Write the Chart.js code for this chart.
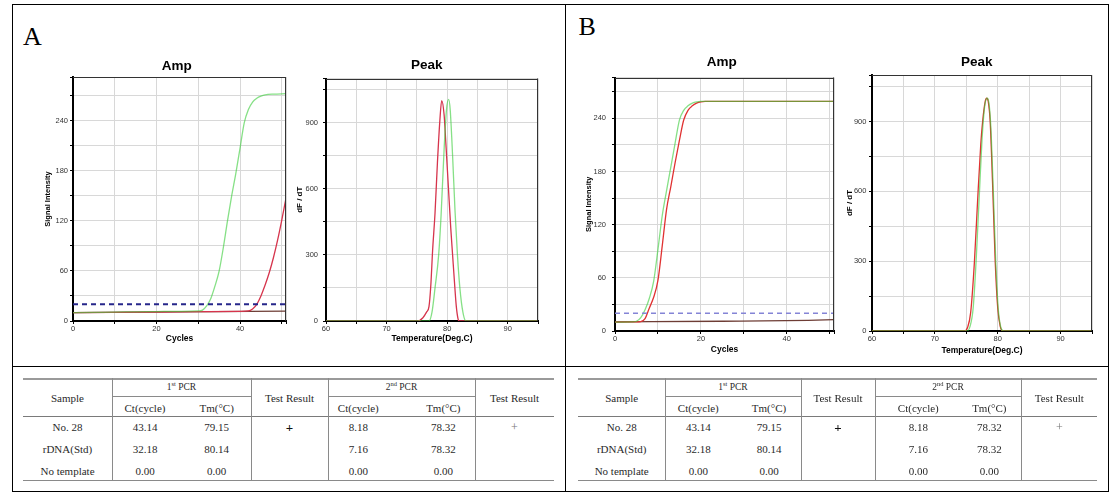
<!DOCTYPE html>
<html><head><meta charset="utf-8">
<script src="https://cdn.jsdelivr.net/npm/chart.js@4.4.1/dist/chart.umd.min.js"></script>
<style>
html,body{margin:0;padding:0;background:#fff}
body{width:1119px;height:493px;position:relative;overflow:hidden}
canvas{position:absolute}
.ln{position:absolute}
.t{position:absolute;white-space:nowrap;line-height:1;transform:translate(-50%,-50%);font-family:"Liberation Serif","Times New Roman",serif;color:#2a2a2a;font-size:11px}
.ttl{position:absolute;font:bold 13.5px "Liberation Sans",Arial,sans-serif;line-height:13.5px;transform:translateX(-50%);white-space:nowrap;color:#000}
.lab{position:absolute;font:26px "Liberation Serif","Times New Roman",serif;line-height:26px;color:#000}
sup{font-size:6.5px;vertical-align:4px;line-height:0}
</style></head><body>
<canvas id="ampA"></canvas><canvas id="peakA"></canvas>
<canvas id="ampB"></canvas><canvas id="peakB"></canvas>
<script>
// ================= DATA =================
// Panel A – amplification (cycle vs signal intensity)
const ampA_std_cycles  = [0,5,10,15,20,25,30,31,32,33,34,35,36,37,38,39,40,41,42,43,44,45,46,48,51];
const ampA_std_signal  = [10,10.3,10.6,11,11.3,11.6,12,13,18,27,42,60,88,120,150,177,207,237,253,262,266.5,269,270.5,271.5,272];
const ampA_no28_cycles = [0,10,20,30,40,42,43,44,45,46,47,48,49,50,51];
const ampA_no28_signal = [10,10.4,10.8,11.2,11.6,12,14.5,20,30,43,58,76,97,121,147];
const ampA_ntc_cycles  = [0,51];
const ampA_ntc_signal  = [10,11.8];
const ampA_threshold   = 20;

// Panel A – melting peak (temperature vs dF/dT)
const peakA_no28_temp = [60,75.1,76.0,76.6,77.0,77.3,77.6,78.0,78.4,78.8,79.1,79.5,79.8,80.2,80.6,80.9,81.2,81.5,81.8,82.0,95];
const peakA_no28_dfdt = [0,0,15,40,65,160,320,490,720,910,1000,935,800,610,420,300,180,70,10,0,0];
const peakA_std_temp  = [60,77.0,77.5,78.0,78.6,79.0,79.5,79.9,80.25,80.5,80.9,81.3,81.7,82.1,82.6,83.1,95];
const peakA_std_dfdt  = [0,0,40,150,300,480,780,960,1005,960,750,500,300,150,40,0,0];

// Panel B – amplification
const ampB_std_cycles  = [0,4,5,6,7,8,9,10,11,12,13,14,15,16,17,18,19,20,22,51];
const ampB_std_signal  = [10,10.2,11,15,24,37,56,92,130,158,185,212,238,249,254,257,258.5,259,259,259];
const ampB_no28_cycles = [0,5,6,7,8,9,10,11,12,13,14,15,16,17,18,19,20,21,51];
const ampB_no28_signal = [10,10.2,10.6,14,26,38,57,96,137,163,190,215,238,249,254,257,258.5,259,259];
const ampB_ntc_cycles  = [0,25,45,51];
const ampB_ntc_signal  = [10.3,11,12,12.8];
const ampB_threshold   = 20;

// Panel B – melting peak
const peakB_no28_temp = [60,74.7,75.2,75.7,76.3,76.8,77.3,77.6,78.0,78.25,78.5,78.8,79.2,79.6,80.0,80.4,80.8,95];
const peakB_no28_dfdt = [0,0,15,80,300,560,800,900,985,1000,985,900,620,300,100,20,0,0];
const peakB_std_temp  = [60,75.1,75.6,76.1,76.6,77.1,77.5,77.9,78.3,78.6,78.9,79.3,79.7,80.1,80.5,80.9,95];
const peakB_std_dfdt  = [0,0,20,100,320,600,820,960,1000,980,880,600,290,90,15,0,0];

// Table (same for both panels)
const tableSamples = ['No. 28','rDNA(Std)','No template'];
const pcr1Ct  = ['43.14','32.18','0.00'];
const pcr1Tm  = ['79.15','80.14','0.00'];
const result1 = ['+','',''];
const pcr2Ct  = ['8.18','7.16','0.00'];
const pcr2Tm  = ['78.32','78.32','0.00'];
const result2 = ['+','',''];

// ================= HELPERS =================
Chart.defaults.font.family = '"Liberation Sans", Arial, sans-serif';
function pts(xs, ys){ return xs.map((x,i)=>({x:x, y:ys[i]})); }
function flat(v, a, b){ return [{x:a,y:v},{x:b,y:v}]; }

const framePlugin = {
  id:'frame',
  afterDraw(chart){
    const {ctx, chartArea:a} = chart;
    ctx.save();
    ctx.strokeStyle = '#333'; ctx.lineWidth = 1;
    ctx.beginPath();
    ctx.moveTo(a.left, Math.round(a.top)+0.5); ctx.lineTo(a.right, Math.round(a.top)+0.5);
    ctx.moveTo(Math.round(a.right)-0.5, a.top); ctx.lineTo(Math.round(a.right)-0.5, a.bottom);
    ctx.stroke(); ctx.restore();
  }
};

function ds(data, color, w, dash){
  return {data:data, borderColor:color, borderWidth:w||1.3, borderDash:dash||[], fill:false,
          pointRadius:0, cubicInterpolationMode:'monotone'};
}

function makeChart(id, box, o){
  const yW = 50, padTop = 8, padRight = 6, xH = 34;
  const left = box.L - yW, top = box.T - padTop;
  const w = box.R - box.L + yW + padRight, h = box.B - box.T + padTop + xH;
  const cv = document.getElementById(id);
  cv.width = w; cv.height = h;
  Object.assign(cv.style, {left:left+'px', top:top+'px', width:w+'px', height:h+'px'});
  const tfs = 7.5, ylh = o.yTitleSize*1.2, xlh = o.xTitleSize*1.2;
  new Chart(cv, {
    type:'line',
    data:{datasets:o.datasets},
    options:{
      responsive:false, animation:false, devicePixelRatio:1,
      layout:{padding:{left:0, top:padTop, right:padRight, bottom:0}},
      plugins:{legend:{display:false}, tooltip:{enabled:false}},
      scales:{
        x:{type:'linear', min:o.xMin, max:o.xMax, bounds:'data',
          ticks:{stepSize:o.xStep, includeBounds:false, autoSkip:false, maxRotation:0, padding:0,
                 font:{size:tfs}, color:'#333', callback:v => (v % o.xLabelEvery === 0 ? String(v) : '')},
          grid:{color:'#d8d8d8', lineWidth:1, tickLength:3, tickColor:'#000'},
          border:{display:true, color:'#000', width:2},
          title:{display:true, text:o.xTitle, color:'#000', font:{size:o.xTitleSize, weight:'bold'},
                 padding:{top:0, bottom: xH - o.xTitleDy - xlh/2}},
          afterFit(s){ s.height = xH; }
        },
        y:{type:'linear', min:0, max:o.yMax, bounds:'data',
          ticks:{stepSize:o.yStep, includeBounds:false, padding:o.yTickPad,
                 font:{size:tfs}, color:'#333', callback:v => (v % o.yLabelEvery === 0 ? String(v) : '')},
          grid:{color:'#d8d8d8', lineWidth:1, tickLength:3, tickColor:'#000'},
          border:{display:true, color:'#000', width:2},
          title:{display:true, text:o.yTitle, color:'#000', font:{size:o.yTitleSize, weight:'bold'},
                 padding:{top: yW + o.yTitleDx - ylh/2, bottom:0}},
          afterFit(s){ s.width = yW; }
        }
      }
    },
    plugins:[framePlugin]
  });
}

const GREEN = 'rgba(60,205,60,0.62)';
const RED_A = '#d6344c';
const RED_B = '#e03232';
const NTC = '#6e3d35';

// ----- Panel A charts -----
makeChart('ampA', {L:73,T:77,R:286,B:321}, {
  xMin:0, xMax:51, xStep:10, xLabelEvery:20, yMax:292, yStep:30, yLabelEvery:60, yTickPad:2,
  xTitle:'Cycles', xTitleSize:8.5, xTitleDy:18, yTitle:'Signal Intensity', yTitleSize:7.5, yTitleDx:-25.3,
  datasets:[
    ds(flat(ampA_threshold, 0, 51), '#26268a', 2, [5,4]),
    ds(pts(ampA_std_cycles, ampA_std_signal), GREEN),
    ds(pts(ampA_no28_cycles, ampA_no28_signal), RED_A),
    ds(pts(ampA_ntc_cycles, ampA_ntc_signal), NTC)
  ]
});
makeChart('peakA', {L:326,T:77,R:538,B:321}, {
  xMin:60, xMax:95, xStep:5, xLabelEvery:10, yMax:1100, yStep:150, yLabelEvery:300, yTickPad:5,
  xTitle:'Temperature(Deg.C)', xTitleSize:8.5, xTitleDy:17.3, yTitle:'dF / dT', yTitleSize:8, yTitleDx:-26,
  datasets:[
    ds(pts(peakA_std_temp, peakA_std_dfdt), GREEN),
    ds(pts(peakA_no28_temp, peakA_no28_dfdt), RED_A)
  ]
});
// ----- Panel B charts -----
makeChart('ampB', {L:615,T:75,R:834,B:331}, {
  xMin:0, xMax:51, xStep:10, xLabelEvery:20, yMax:286, yStep:30, yLabelEvery:60, yTickPad:6,
  xTitle:'Cycles', xTitleSize:8.5, xTitleDy:19, yTitle:'Signal Intensity', yTitleSize:7.5, yTitleDx:-26,
  datasets:[
    ds(flat(ampB_threshold, 0, 51), '#8484d6', 1.3, [5,4]),
    ds(pts(ampB_std_cycles, ampB_std_signal), GREEN),
    ds(pts(ampB_no28_cycles, ampB_no28_signal), RED_B),
    ds(pts(ampB_ntc_cycles, ampB_ntc_signal), NTC)
  ]
});
makeChart('peakB', {L:872,T:75,R:1092,B:331}, {
  xMin:60, xMax:95, xStep:5, xLabelEvery:10, yMax:1100, yStep:150, yLabelEvery:300, yTickPad:2.6,
  xTitle:'Temperature(Deg.C)', xTitleSize:8.5, xTitleDy:20, yTitle:'dF / dT', yTitleSize:8, yTitleDx:-22,
  datasets:[
    ds(pts(peakB_std_temp, peakB_std_dfdt), GREEN),
    ds(pts(peakB_no28_temp, peakB_no28_dfdt), RED_B)
  ]
});

// ================= PAGE DECORATION (frames, titles, tables) =================
const body = document.body;
function line(x, y, w, h, c){
  const d = document.createElement('div'); d.className = 'ln';
  Object.assign(d.style, {left:x+'px', top:y+'px', width:w+'px', height:h+'px', background:c||'#000'});
  body.appendChild(d);
}
function text(cls, x, y, html, extra){
  const d = document.createElement('div'); d.className = cls;
  d.style.left = x+'px'; d.style.top = y+'px'; d.innerHTML = html;
  if (extra) Object.assign(d.style, extra);
  body.appendChild(d);
}
// frames
line(12, 4, 1097, 1); line(12, 491, 1097, 1); line(12, 366, 1097, 1);
line(12, 4, 1, 488); line(565, 4, 1, 488); line(1108, 4, 1, 488);
// panel letters
text('lab', 23, 24, 'A'); text('lab', 578.5, 14, 'B');
// chart titles
text('ttl', 176.7, 58.6, 'Amp'); text('ttl', 426.7, 57.6, 'Peak');
text('ttl', 721.7, 55.3, 'Amp'); text('ttl', 976.7, 55.3, 'Peak');

function table(c){
  // c: column edges and centers
  const yTop = 378, ySub = 396, yHead = 416, yBot = 480;
  line(c.L, yTop, c.R - c.L, 2, '#9a9a9a');
  line(c.c1, ySub, c.c2 - c.c1, 1, '#8a8a8a');
  line(c.c3, ySub, c.c4 - c.c3, 1, '#8a8a8a');
  line(c.L, yHead, c.R - c.L, 1, '#7a7a7a');
  line(c.L, yBot, c.R - c.L, 1, '#8a8a8a');
  [c.c1, c.c2, c.c3, c.c4].forEach(x => line(x, yTop, 1, yBot - yTop, '#8a8a8a'));
  text('t', c.sx, 398.3, 'Sample');
  text('t', c.ct1, 388.3, '1<sup>st</sup> PCR', {fontSize:'9.5px'});
  text('t', c.ct2, 388.3, '2<sup>nd</sup> PCR', {fontSize:'9.5px'});
  text('t', c.tr1, 398.3, 'Test Result');
  text('t', c.tr2, 398.3, 'Test Result');
  text('t', c.a1, 407.7, 'Ct(cycle)'); text('t', c.b1, 407.7, 'Tm(\u00B0C)');
  text('t', c.a2, 407.7, 'Ct(cycle)'); text('t', c.b2, 407.7, 'Tm(\u00B0C)');
  const rows = [427.3, 449, 470.5];
  rows.forEach((y, i) => {
    text('t', c.sx, y, tableSamples[i]);
    text('t', c.a1, y, pcr1Ct[i]); text('t', c.b1, y, pcr1Tm[i]);
    text('t', c.a2, y, pcr2Ct[i]); text('t', c.b2, y, pcr2Tm[i]);
    if (result1[i]) text('t', c.tr1, y, result1[i], {fontWeight:'bold', fontSize:'13px', color:'#111'});
    if (result2[i]) text('t', c.tr2, y, result2[i], {fontSize:'12px', color:'#777'});
  });
}
table({L:23, c1:112, c2:251, c3:328, c4:475, R:554, sx:67.5, a1:145, b1:216.7, tr1:289.5, a2:358.3, b2:443.3, tr2:514.5, ct1:181.5, ct2:401.5});
table({L:578, c1:665, c2:801, c3:875, c4:1021, R:1097, sx:621.7, a1:698.3, b1:769, tr1:838, a2:918.3, b2:989.3, tr2:1059.3, ct1:733, ct2:948});
</script>
</body></html>
